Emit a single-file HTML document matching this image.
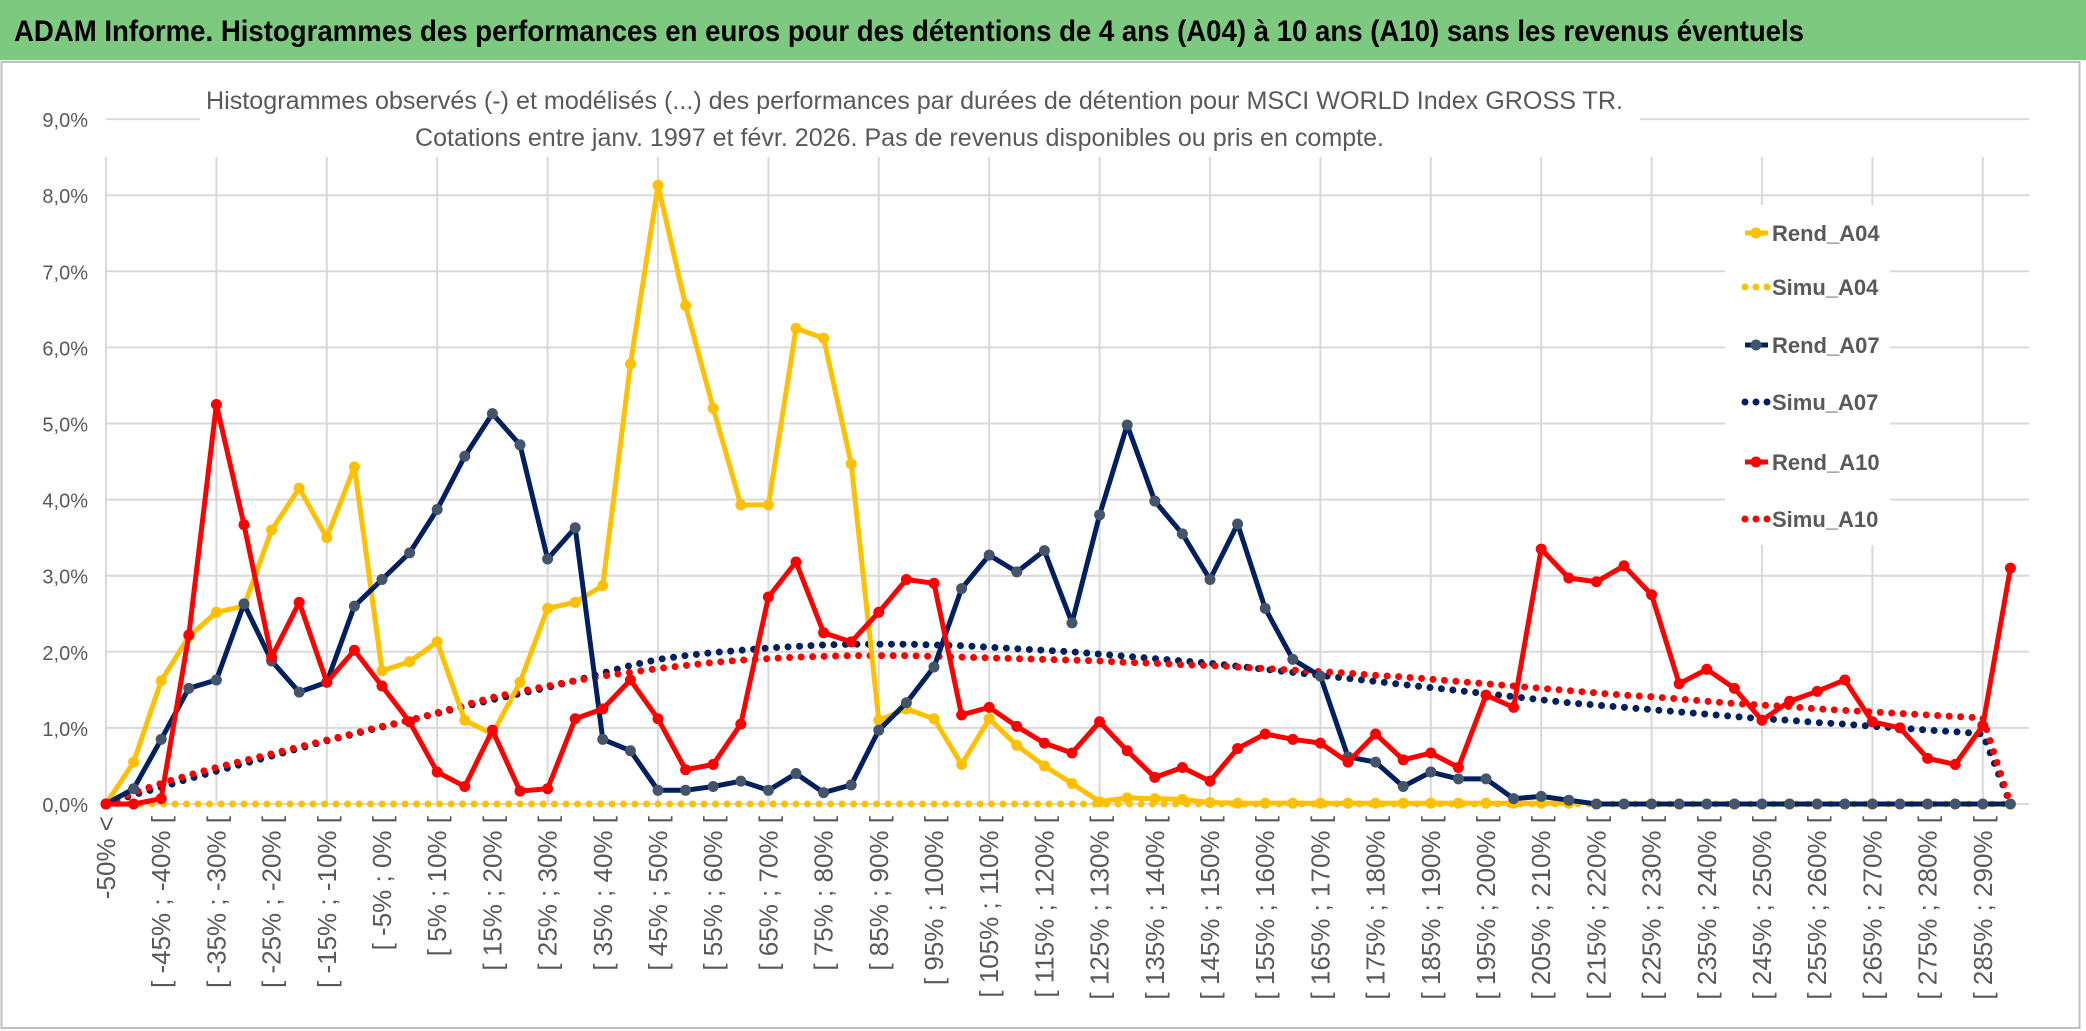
<!DOCTYPE html>
<html><head><meta charset="utf-8"><style>
body{margin:0;background:#fff;}
svg{display:block;font-family:"Liberation Sans",sans-serif;}
</style></head><body>
<svg id="chart" width="2086" height="1031" viewBox="0 0 2086 1031" xmlns="http://www.w3.org/2000/svg">
<rect x="0" y="0" width="2086" height="1031" fill="#fff"/>
<rect x="0" y="0" width="2086" height="60" fill="#7dc97f"/>
<text x="14" y="41" font-size="30" font-weight="bold" fill="#000" textLength="1790" lengthAdjust="spacingAndGlyphs">ADAM Informe. Histogrammes des performances en euros pour des détentions de 4 ans (A04) à 10 ans (A10) sans les revenus éventuels</text>
<rect x="1.5" y="62" width="2078" height="966" fill="none" stroke="#bfbfbf" stroke-width="2"/>
<g id="grid"></g>
<rect x="200" y="78" width="1440" height="78" fill="#fff"/>
<text x="206" y="109" font-size="25" fill="#595959" textLength="1417" lengthAdjust="spacingAndGlyphs">Histogrammes observés (-) et modélisés (...) des performances par durées de détention pour MSCI WORLD Index GROSS TR.</text>
<text x="415" y="146" font-size="25" fill="#595959" textLength="969" lengthAdjust="spacingAndGlyphs">Cotations entre janv. 1997 et févr. 2026. Pas de revenus disponibles ou pris en compte.</text>
<g id="yaxis"></g>
<g id="xaxis"></g>
<g id="series"></g>
<g id="legend"></g>
</svg>
<script>
const yTicks = [0,1,2,3,4,5,6,7,8,9];
const xLabels = ["-50% <","","[ -45% ; -40% [","","[ -35% ; -30% [","","[ -25% ; -20% [","","[ -15% ; -10% [","","[ -5% ; 0% [","","[ 5% ; 10% [","","[ 15% ; 20% [","","[ 25% ; 30% [","","[ 35% ; 40% [","","[ 45% ; 50% [","","[ 55% ; 60% [","","[ 65% ; 70% [","","[ 75% ; 80% [","","[ 85% ; 90% [","","[ 95% ; 100% [","","[ 105% ; 110% [","","[ 115% ; 120% [","","[ 125% ; 130% [","","[ 135% ; 140% [","","[ 145% ; 150% [","","[ 155% ; 160% [","","[ 165% ; 170% [","","[ 175% ; 180% [","","[ 185% ; 190% [","","[ 195% ; 200% [","","[ 205% ; 210% [","","[ 215% ; 220% [","","[ 225% ; 230% [","","[ 235% ; 240% [","","[ 245% ; 250% [","","[ 255% ; 260% [","","[ 265% ; 270% [","","[ 275% ; 280% [","","[ 285% ; 290% [",""];
const rendA04 = [0,0.55,1.62,2.2,2.52,2.6,3.6,4.15,3.5,4.43,1.75,1.87,2.13,1.1,0.92,1.6,2.57,2.65,2.87,5.78,8.13,6.55,5.2,3.93,3.93,6.25,6.12,4.47,1.1,1.25,1.12,0.52,1.12,0.77,0.5,0.27,0.03,0.08,0.07,0.06,0.02,0.01,0.01,0.01,0.01,0.01,0.01,0.01,0.01,0.01,0.01,0.01,0.01,0.01];
const simuA04 = [0,0,0,0,0,0,0,0,0,0,0,0,0,0,0,0,0,0,0,0,0,0,0,0,0,0,0,0,0,0,0,0,0,0,0,0,0,0,0,0,0,0,0,0,0,0,0,0,0,0,0,0,0,0,0,0,0,0,0,0,0,0,0,0,0,0,0,0,0,0];
const rendA07 = [0,0.2,0.85,1.52,1.63,2.63,1.88,1.47,1.6,2.6,2.95,3.3,3.87,4.57,5.13,4.72,3.22,3.63,0.85,0.7,0.18,0.18,0.23,0.3,0.18,0.4,0.15,0.25,0.97,1.33,1.8,2.83,3.27,3.05,3.33,2.38,3.8,4.98,3.98,3.55,2.95,3.68,2.57,1.9,1.68,0.62,0.55,0.23,0.42,0.33,0.33,0.07,0.1,0.05,0,0,0,0,0,0,0,0,0,0,0,0,0,0,0,0];
const simuA07 = [0,0.12,0.22,0.33,0.43,0.53,0.63,0.73,0.83,0.92,1.01,1.1,1.19,1.28,1.37,1.45,1.53,1.62,1.72,1.82,1.9,1.95,1.99,2.02,2.05,2.07,2.09,2.1,2.1,2.1,2.09,2.08,2.06,2.04,2.02,2.0,1.97,1.94,1.91,1.88,1.85,1.81,1.77,1.73,1.69,1.65,1.61,1.57,1.53,1.49,1.45,1.41,1.37,1.33,1.3,1.27,1.24,1.21,1.18,1.15,1.12,1.1,1.07,1.05,1.02,1.0,0.97,0.95,0.92,0];
const rendA10 = [0,0,0.07,2.22,5.25,3.67,1.93,2.65,1.6,2.02,1.55,1.08,0.42,0.23,0.97,0.17,0.2,1.12,1.25,1.63,1.12,0.45,0.52,1.05,2.72,3.18,2.25,2.13,2.52,2.95,2.9,1.17,1.27,1.02,0.8,0.67,1.08,0.7,0.35,0.48,0.3,0.73,0.92,0.85,0.8,0.55,0.92,0.58,0.67,0.48,1.43,1.27,3.35,2.97,2.92,3.13,2.75,1.58,1.77,1.52,1.1,1.35,1.48,1.63,1.08,1.0,0.6,0.52,1.03,3.1];
const simuA10 = [0,0.15,0.27,0.38,0.48,0.57,0.66,0.75,0.84,0.93,1.02,1.1,1.2,1.3,1.4,1.48,1.55,1.62,1.68,1.73,1.78,1.82,1.86,1.89,1.91,1.93,1.94,1.95,1.95,1.95,1.94,1.93,1.92,1.91,1.9,1.89,1.88,1.86,1.85,1.83,1.82,1.8,1.78,1.76,1.74,1.72,1.69,1.67,1.64,1.61,1.58,1.55,1.52,1.49,1.46,1.43,1.41,1.38,1.35,1.32,1.3,1.28,1.25,1.23,1.21,1.19,1.17,1.15,1.13,0];
const seriesNames = ["Rend_A04","Simu_A04","Rend_A07","Simu_A07","Rend_A10","Simu_A10"];

const NS="http://www.w3.org/2000/svg";
const X0=106, DX=27.6, Y0=804, DY=76.1, XR=2029;
function xs(i){return X0+i*DX;}
function ys(v){return Y0-v*DY;}
function mk(tag,attrs,parent){const e=document.createElementNS(NS,tag);for(const k in attrs)e.setAttribute(k,attrs[k]);parent.appendChild(e);return e;}

const grid=document.getElementById('grid');
yTicks.forEach(t=>{
  const l=mk('line',{x1:X0,x2:XR,y1:ys(t),y2:ys(t),stroke:'#d9d9d9','stroke-width':2},grid);
  
  
});
for(let i=0;i<xLabels.length;i+=4){
  const l=mk('line',{x1:xs(i),x2:xs(i),y1:157,y2:Y0,stroke:'#d9d9d9','stroke-width':2},grid);
  
  
}
const ya=document.getElementById('yaxis');
yTicks.forEach(t=>{
  const tx=mk('text',{x:88,y:ys(t)+8,'text-anchor':'end','font-size':20,fill:'#595959'},ya);
  tx.textContent=t.toFixed(1).replace('.',',')+'%';
  
  
});
const xa=document.getElementById('xaxis');
xLabels.forEach((s,i)=>{
  if(!s)return;
  const x=xs(i)+9, y=816;
  const tx=mk('text',{x:x,y:y,'text-anchor':'end','font-size':26,fill:'#595959',transform:`rotate(-90 ${x} ${y})`},xa);
  tx.textContent=s;
  
  
});

const ser=document.getElementById('series');
function pts(arr){return arr.map((v,i)=>xs(i)+','+ys(v)).join(' ');}
function dotted(arr,color,name){
  const p=mk('polyline',{points:pts(arr),fill:'none',stroke:color,'stroke-width':7,'stroke-linecap':'round','stroke-dasharray':'0 11.5'},ser);
  
  
}
function solid(arr,color,mcol,name){
  const p=mk('polyline',{points:pts(arr),fill:'none',stroke:color,'stroke-width':5,'stroke-linejoin':'round'},ser);
  
  
  arr.forEach((v,i)=>{
    const c=mk('circle',{cx:xs(i),cy:ys(v),r:5.5,fill:mcol},ser);
    
    
  });
}
dotted(simuA04,'#ffc000','simu-a04-line');
dotted(simuA07,'#002060','simu-a07-line');
dotted(simuA10,'#ff0000','simu-a10-line');
solid(rendA04,'#ffc000','#ffc000','rend-a04-line');
solid(rendA07,'#002060','#44546a','rend-a07-line');
solid(rendA10,'#ff0000','#ff0000','rend-a10-line');

const lg=document.getElementById('legend');
const bg=mk('rect',{x:1725,y:205,width:165,height:340,fill:'#fff'},lg);


const lcol=['#ffc000','#ffc000','#002060','#002060','#ff0000','#ff0000'];
const lys=[233,287,345,402,462,519];
seriesNames.forEach((n,i)=>{
  const g=mk('g',{},lg);
  
  
  const dash=i%2===1;
  mk('line',{x1:1745,x2:1768,y1:lys[i],y2:lys[i],stroke:lcol[i],'stroke-width':dash?7:5,'stroke-linecap':dash?'round':'butt','stroke-dasharray':dash?'0 11':'none'},g);
  if(!dash)mk('circle',{cx:1756,cy:lys[i],r:5.5,fill:i===2?'#44546a':lcol[i]},g);
  const t=mk('text',{x:1772,y:lys[i]+8,'font-size':22,'font-weight':'bold',fill:'#595959'},g);
  t.textContent=n;
});
</script>
</body></html>
